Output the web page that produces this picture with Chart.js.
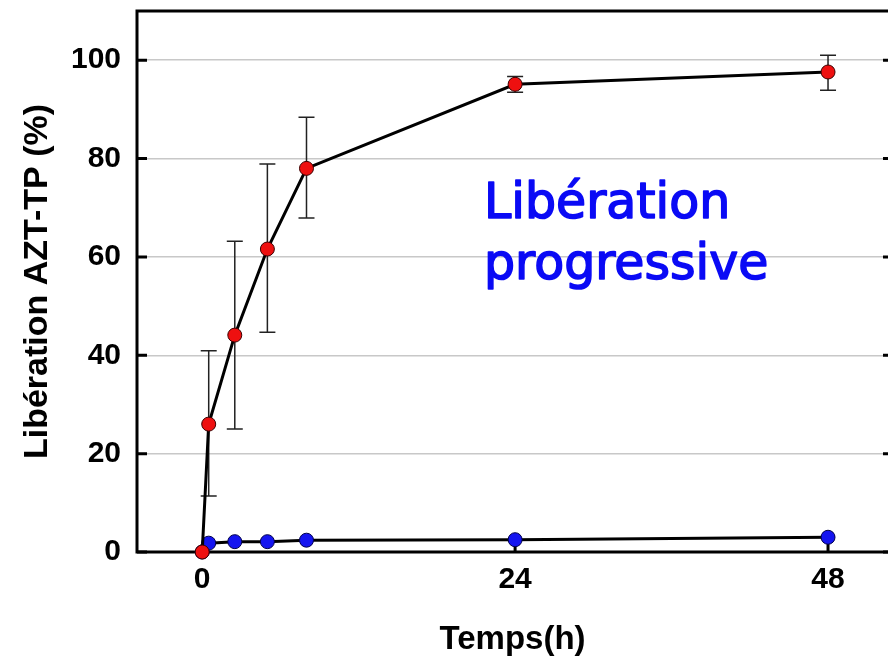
<!DOCTYPE html>
<html>
<head>
<meta charset="utf-8">
<script src="https://cdn.jsdelivr.net/npm/chart.js@4.4.1/dist/chart.umd.min.js"></script>
<style>
  body { margin: 0; background: #fff; }
  #wrap { width: 888px; height: 657px; }
</style>
</head>
<body>
<div id="wrap"><canvas id="grafico" width="888" height="657"></canvas></div>
<script>
// temps de prélèvement (h)
const temps = [0, 0.5, 2.5, 5, 8, 24, 48];
// libération (%) - courbe rouge
const liberationRouge = [0, 26, 44.1, 61.6, 78, 95.1, 97.6];
// barres d'erreur (bas / haut) de la courbe rouge
const erreurBas  = [null, 11.4, 25, 44.7, 67.9, 93.5, 93.9];
const erreurHaut = [null, 40.9, 63.2, 78.9, 88.4, 96.7, 101];
// libération (%) - courbe bleue
const liberationBleue = [0, 1.8, 2.1, 2.1, 2.4, 2.5, 3.0];

const ticksX = [0, 24, 48];
const ticksY = [0, 20, 40, 60, 80, 100];

const police = '"Liberation Sans", Arial, sans-serif';

function versPoints(valeurs) {
    return temps.map((t, i) => ({ x: t, y: valeurs[i] }));
}

// barres d'erreur dessinées avant les courbes
const pluginErreurs = {
    id: 'erreurs',
    beforeDatasetsDraw(chart) {
        const ctx = chart.ctx;
        const sx = chart.scales.x, sy = chart.scales.y;
        ctx.save();
        ctx.strokeStyle = '#222';
        ctx.lineWidth = 1.5;
        temps.forEach((t, i) => {
            if (erreurBas[i] == null) return;
            const px = sx.getPixelForValue(t);
            const yb = sy.getPixelForValue(erreurBas[i]);
            const yh = sy.getPixelForValue(erreurHaut[i]);
            ctx.beginPath();
            ctx.moveTo(px, yb); ctx.lineTo(px, yh);
            ctx.moveTo(px - 8, yb); ctx.lineTo(px + 8, yb);
            ctx.moveTo(px - 8, yh); ctx.lineTo(px + 8, yh);
            ctx.stroke();
        });
        ctx.restore();
    }
};

// cadre et graduations intérieures (avant les courbes)
const pluginCadre = {
    id: 'cadre',
    beforeDatasetsDraw(chart) {
        const ctx = chart.ctx;
        const a = chart.chartArea;
        const sx = chart.scales.x, sy = chart.scales.y;
        ctx.save();
        ctx.strokeStyle = '#000';
        ctx.lineWidth = 3;
        ctx.beginPath();
        ctx.moveTo(a.right + 2, a.top);
        ctx.lineTo(a.left, a.top);
        ctx.lineTo(a.left, a.bottom);
        ctx.lineTo(a.right + 2, a.bottom);
        ctx.stroke();

        ctx.beginPath();
        ticksY.forEach(v => {
            const py = sy.getPixelForValue(v);
            ctx.moveTo(a.left, py); ctx.lineTo(a.left + 10, py);
            ctx.moveTo(a.right - 5, py); ctx.lineTo(a.right + 2, py);
        });
        ticksX.forEach(v => {
            const px = sx.getPixelForValue(v);
            ctx.moveTo(px, a.bottom); ctx.lineTo(px, a.bottom - 8);
        });
        ctx.stroke();
        ctx.restore();
    },
    afterDraw(chart) {
        const ctx = chart.ctx;
        ctx.save();
        ctx.fillStyle = '#0a0af5';
        ctx.strokeStyle = '#0a0af5';
        ctx.lineWidth = 1.6;
        ctx.lineJoin = 'round';
        ctx.font = '49px "DejaVu Sans", Verdana, sans-serif';
        ctx.textAlign = 'left';
        ctx.textBaseline = 'alphabetic';
        [['Libération', 484, 218], ['progressive', 484, 279]].forEach(([t, x, y]) => {
            ctx.fillText(t, x, y);
            ctx.strokeText(t, x, y);
        });
        ctx.restore();
    }
};

const ctx = document.getElementById('grafico').getContext('2d');
new Chart(ctx, {
    type: 'line',
    data: {
        datasets: [
            {
                label: 'Rouge',
                data: versPoints(liberationRouge),
                order: 0,
                borderColor: '#000',
                borderWidth: 3,
                pointRadius: 7,
                pointBackgroundColor: '#ee1010',
                pointBorderColor: '#3a0000',
                pointBorderWidth: 1,
                tension: 0,
                clip: false
            },
            {
                label: 'Bleue',
                data: versPoints(liberationBleue),
                order: 1,
                borderColor: '#000',
                borderWidth: 3,
                pointRadius: 7,
                pointBackgroundColor: '#1414f0',
                pointBorderColor: '#00004a',
                pointBorderWidth: 1,
                tension: 0,
                clip: false
            }
        ]
    },
    options: {
        responsive: false,
        animation: false,
        layout: { autoPadding: false, padding: { top: 11, right: 0, left: 0, bottom: 0 } },
        plugins: {
            legend: { display: false },
            tooltip: { enabled: false }
        },
        scales: {
            x: {
                type: 'linear',
                min: -5,
                max: 52.6,
                afterBuildTicks: s => { s.ticks = ticksX.map(v => ({ value: v })); },
                afterFit: s => { s.height = 105; s.paddingLeft = 0; s.paddingRight = 0; },
                grid: { display: false, drawTicks: false },
                border: { display: false },
                ticks: {
                    color: '#000',
                    padding: 10,
                    maxRotation: 0,
                    font: { family: police, size: 30, weight: 'bold' }
                },
                title: {
                    display: true,
                    text: 'Temps(h)',
                    color: '#000',
                    padding: { top: 0, bottom: -3 },
                    font: { family: police, size: 33, weight: 'bold' }
                }
            },
            y: {
                min: 0,
                max: 110,
                afterBuildTicks: s => { s.ticks = ticksY.map(v => ({ value: v })); },
                afterFit: s => { s.width = 137; s.paddingTop = 0; s.paddingBottom = 0; },
                grid: { color: '#c8c8c8', lineWidth: 1.5, drawTicks: false },
                border: { display: false },
                ticks: {
                    color: '#000',
                    padding: 16,
                    font: { family: police, size: 30, weight: 'bold' }
                },
                title: {
                    display: true,
                    text: 'Libération AZT-TP (%)',
                    color: '#000',
                    padding: { top: 17, bottom: 0 },
                    font: { family: police, size: 34, weight: 'bold' }
                }
            }
        }
    },
    plugins: [pluginErreurs, pluginCadre]
});
</script>
</body>
</html>
